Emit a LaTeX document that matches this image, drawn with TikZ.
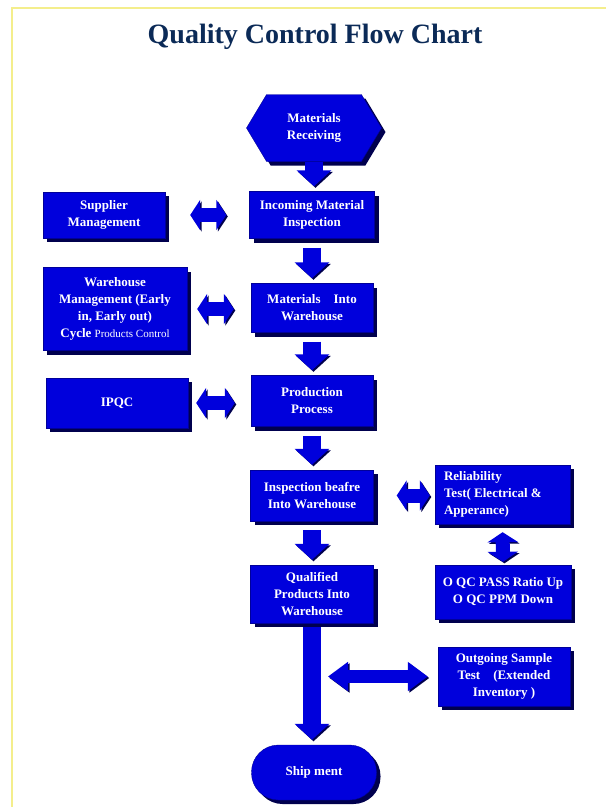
\documentclass[tikz,border=0pt]{standalone}
\usepackage{fontspec}
\setmainfont{Liberation Serif}
\usepackage{tikz}
\usetikzlibrary{arrows.meta,shadows,shapes.symbols,calc}

\definecolor{boxblue}{HTML}{0000DC}
\definecolor{boxedge}{HTML}{00009A}
\definecolor{shadenavy}{HTML}{00004E}
\definecolor{titlenavy}{HTML}{0B2A57}
\definecolor{frameyellow}{HTML}{F4EE8C}

\begin{document}
\begin{tikzpicture}[
  x=1pt, y=-1pt,
  box/.style={draw=boxedge, fill=boxblue, text=white, align=center,
    font=\bfseries\fontsize{13}{17}\selectfont, inner sep=3pt,
    general shadow={fill=shadenavy, shadow xshift=4pt, shadow yshift=-4pt}},
  flow/.style={line width=18pt, draw=boxblue, shorten <=9pt, shorten >=5pt,
    -{Triangle[width=34pt,length=16pt]},
    preaction={draw=shadenavy, transform canvas={shift={(1.5pt,-1.5pt)}}}},
  link/.style={line width=14pt, draw=boxblue,
    {Triangle[width=30pt,length=10pt]}-{Triangle[width=30pt,length=10pt]},
    preaction={draw=shadenavy, transform canvas={shift={(1.5pt,-1.5pt)}}}}
]
  \useasboundingbox (0,0) rectangle (606,807);
  \draw[frameyellow, line width=2pt] (12,807) -- (12,8) -- (606,8);

  % title
  \node[text=titlenavy, font=\bfseries\fontsize{28}{30}\selectfont] (title) at (315,37) {Quality Control Flow Chart};

  % main column
  \node[box, shape=signal, signal to=west and east, signal pointer angle=118,
    minimum width=135pt, minimum height=67pt] (hex) at (314,128) {Materials\\Receiving};
  \node[box, minimum width=125pt, minimum height=47pt] (inc) at (312,215) {Incoming Material\\Inspection};
  \node[box, minimum width=122pt, minimum height=49pt] (mat) at (312,308) {Materials\quad Into\\Warehouse};
  \node[box, minimum width=122pt, minimum height=51pt] (prod) at (312,401) {Production\\Process};
  \node[box, minimum width=123pt, minimum height=51pt] (insp) at (312,495.5) {Inspection beafre\\Into Warehouse};
  \node[box, minimum width=123pt, minimum height=58pt] (qual) at (312,594) {Qualified\\Products Into\\Warehouse};
  \node[box, rounded corners=27pt, minimum width=125pt, minimum height=55pt] (ship) at (314,772.5) {Ship ment};

  % left side
  \node[box, minimum width=122pt, minimum height=46pt] (sup) at (104,215) {Supplier\\Management};
  \node[box, minimum width=144pt, minimum height=83pt] (wh) at (115,309) {Warehouse\\Management (Early\\in, Early out)\\Cycle {\mdseries\fontsize{11}{17}\selectfont Products Control}};
  \node[box, minimum width=142pt, minimum height=50pt] (ipqc) at (117,403) {IPQC};

  % right side
  \node[box, minimum width=135pt, minimum height=59pt, text width=117pt, align=justify] (rel) at (502.5,494.5) {Reliability\\Test( Electrical \&\\Apperance)};
  \node[box, minimum width=136pt, minimum height=54pt] (oqc) at (503,592) {O QC PASS Ratio Up\\O QC PPM Down};
  \node[box, minimum width=132pt, minimum height=59pt] (out) at (504,676.5) {Outgoing Sample\\Test\quad(Extended\\Inventory )};

  % flow arrows
  \draw[flow, shorten <=0pt] (hex.south) -- (hex.south |- inc.north);
  \draw[flow] (inc.south) -- (mat.north);
  \draw[flow] (mat.south) -- (prod.north);
  \draw[flow] (prod.south) -- (insp.north);
  \draw[flow] (insp.south) -- (qual.north);
  \draw[flow, shorten <=4pt] (qual.south) -- (qual.south |- ship.north);

  % side links
  \draw[link, shorten <=25pt, shorten >=23pt] (sup.east) -- (sup.east -| inc.west);
  \draw[link, shorten <=10pt, shorten >=17pt] (wh.east) -- (wh.east -| mat.west);
  \draw[link, shorten <=8pt, shorten >=16pt] (ipqc.east) -- (ipqc.east -| prod.west);
  \draw[link, shorten <=23pt, shorten >=5pt] (insp.east) -- (insp.east -| rel.west);
  \draw[link, shorten <=8pt, shorten >=3pt] (rel.south) -- (oqc.north);
  \draw[link, line width=13pt, {Triangle[width=28pt,length=20pt]}-{Triangle[width=28pt,length=20pt]},
    shorten <=16pt, shorten >=10pt] (qual.south |- out.west) -- (out.west);

\end{tikzpicture}
\end{document}
